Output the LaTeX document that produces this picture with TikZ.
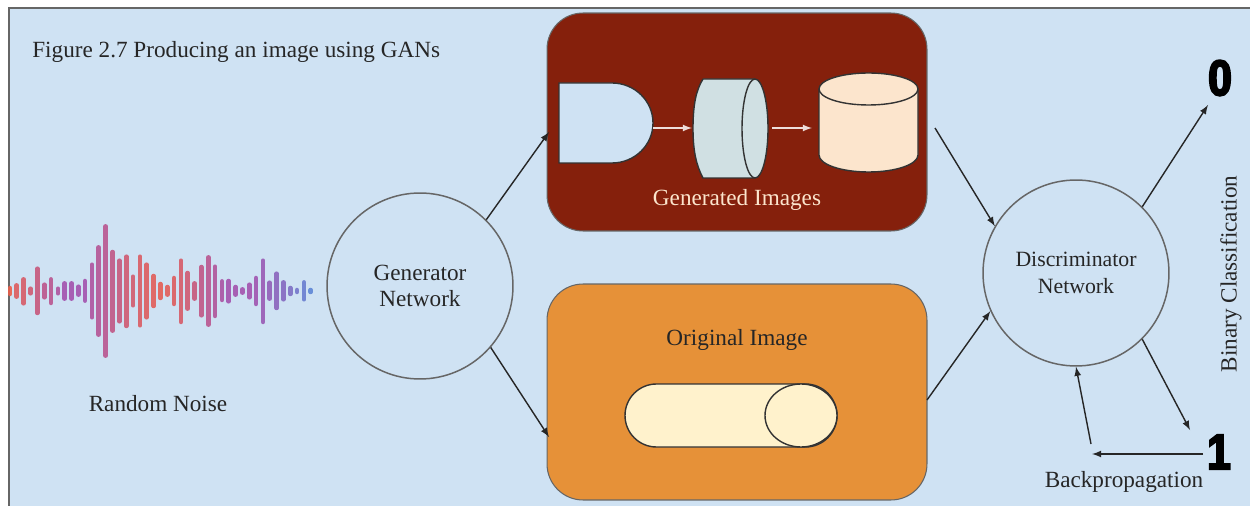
\documentclass[tikz,border=0pt]{standalone}
\usepackage{fontspec}
\usepackage{tikz}
\setmainfont{Liberation Serif}
\newfontfamily\digitfont[BoldFeatures={FakeBold=4,FakeStretch=0.85}]{Liberation Sans}
\definecolor{pagebg}{HTML}{CFE2F3}
\definecolor{framegray}{HTML}{666666}
\definecolor{darkbox}{HTML}{85200C}
\definecolor{orangebox}{HTML}{E69138}
\definecolor{lensfill}{HTML}{D0E0E3}
\definecolor{peachfill}{HTML}{FCE5CD}
\definecolor{creamfill}{HTML}{FFF2CC}
\definecolor{labelgray}{HTML}{262626}
\definecolor{noisered}{HTML}{EC5F4A}
\definecolor{noisepurple}{HTML}{A352AE}
\definecolor{noiseblue}{HTML}{5F86D6}
\tikzset{
  label text/.style={text=labelgray, font=\fontsize{13.2}{15}\selectfont, inner sep=0pt, align=center},
  net circle/.style={circle, draw=framegray, line width=0.85pt, minimum size=3.72cm, inner sep=0pt},
  big box/.style={draw=framegray, line width=0.6pt, rounded corners=0.72cm, minimum width=7.6cm, inner sep=0pt},
  flow arrow/.style={draw=labelgray, line width=0.8pt, -latex},
  small arrow/.style={draw=white!85!darkbox, line width=0.8pt, -latex},
  shape line/.style={draw=black!80, line width=0.8pt},
  digit text/.style={text=black, inner sep=0pt, font=\digitfont\bfseries\fontsize{28.5}{30}\selectfont}
}

\begin{document}
\begin{tikzpicture}[x=0.02cm, y=-0.02cm] % 1 unit = 1 pixel, y runs downwards
  \useasboundingbox (0,0) rectangle (1250,506);
  \fill[white] (0,0) rectangle (1250,506);
  \fill[pagebg] (9,8) rectangle (1250,506); % background
  \draw[framegray, line width=0.9pt] (9,506) -- (9,8) -- (1250,8);

  \node[label text, anchor=west] (title) at (32,52) {Figure 2.7 Producing an image using GANs};

  % noise bars: x, top, bottom (zoom pixels), colour
  \foreach \x/\t/\b/\c in {
    30/258/288/noisered, 50/250/296/noisered!80!noisepurple, 71/232/316/noisered!70!noisepurple,
    92/260/286/noisered!60!noisepurple, 112/200/345/noisered!50!noisepurple, 133/248/298/noisered!35!noisepurple,
    153/232/315/noisered!30!noisepurple, 174/260/286/noisered!15!noisepurple, 194/244/302/noisepurple,
    215/244/302/noisepurple, 235/254/290/noisepurple, 255/237/308/noisepurple,
    276/188/358/noisered!15!noisepurple, 296/136/410/noisered!25!noisepurple, 317/73/473/noisered!30!noisepurple,
    338/150/398/noisered!40!noisepurple, 358/176/370/noisered!50!noisepurple, 379/164/384/noisered!60!noisepurple,
    399/224/322/noisered!65!noisepurple, 420/164/382/noisered!75!noisepurple, 440/188/358/noisered!80!noisepurple,
    461/222/324/noisered!85!noisepurple, 481/246/300/noisered!90!noisepurple, 502/255/290/noisered!85!noisepurple,
    522/228/318/noisered!80!noisepurple, 543/176/372/noisered!70!noisepurple, 563/213/332/noisered!60!noisepurple,
    584/244/302/noisered!50!noisepurple, 604/195/352/noisered!40!noisepurple, 625/166/380/noisered!30!noisepurple,
    645/194/354/noisered!20!noisepurple, 666/238/306/noisered!10!noisepurple, 686/237/310/noisepurple,
    707/255/290/noisepurple, 727/262/284/noisepurple, 748/248/298/noisepurple,
    768/228/318/noiseblue!5!noisepurple, 789/176/372/noiseblue!15!noisepurple, 809/242/302/noiseblue!25!noisepurple,
    830/215/330/noiseblue!35!noisepurple, 850/241/304/noiseblue!45!noisepurple, 871/258/288/noiseblue!55!noisepurple,
    891/264/282/noiseblue!70!noisepurple, 912/241/304/noiseblue!85!noisepurple, 932/264/282/noiseblue}
  {
    \draw[\c, line width=0.09cm, opacity=0.9, line cap=round] ({\x/3},{200+(\t+6)/3}) -- ({\x/3},{200+(\b-6)/3});
  }
  \node[label text] (noise) at (158,404) {Random Noise};

  % circles
  \node[net circle] (generator) at (420,286) {};
  \node[label text] (generatortext) at (420,286) {Generator\\Network};
  \node[net circle] (discriminator) at (1076,273) {};
  \node[label text, font=\fontsize{12.4}{15}\selectfont] (discriminatortext) at (1076,273) {Discriminator\\Network};

  % boxes
  \node[big box, fill=darkbox, minimum height=4.36cm] (generated) at (737,122) {};
  \node[big box, fill=orangebox, minimum height=4.32cm] (original) at (737,392) {};
  \node[label text, text=peachfill] (generatedtext) at (737,200) {Generated Images};
  \node[label text] (originaltext) at (737,340) {Original Image};

  % shapes in the dark box
  \draw[shape line, fill=pagebg] (559,83) -- (612,83) arc[start angle=-90, end angle=90, x radius=41, y radius=40] -- (559,163) -- cycle;
  \draw[shape line, fill=lensfill] (703,79) -- (755,79) arc[start angle=-90, end angle=90, x radius=13, y radius=49.5] -- (703,178)
    .. controls (696,165) and (693,150) .. (693,128.5) .. controls (693,105) and (696,90) .. (703,79);
  \draw[shape line] (755,79) arc[start angle=-90, end angle=-270, x radius=13, y radius=49.5];
  \draw[shape line, fill=peachfill] (819,89) -- (819,155) arc[start angle=180, end angle=0, x radius=49.5, y radius=17] -- (918,89) -- cycle;
  \draw[shape line, fill=peachfill] (868.5,89) ellipse [x radius=49.5, y radius=16];
  \coordinate (gateout) at (653,128);
  \coordinate (lensin) at (692,128);
  \coordinate (lensout) at (772,128);
  \coordinate (drumin) at (812,128);
  \draw[small arrow] (gateout) -- (lensin);
  \draw[small arrow] (lensout) -- (drumin);

  % shape in the orange box
  \draw[shape line, fill=creamfill] (656.5,384) -- (805.5,384) arc[start angle=-90, end angle=90, radius=31.5] -- (656.5,447) arc[start angle=90, end angle=270, radius=31.5] -- cycle;
  \draw[shape line, fill=creamfill] (801,415.5) ellipse [x radius=36, y radius=31.5];

  % outputs
  \node[digit text] (zero) at (1220,78) {0};
  \node[digit text] (one) at (1219,452) {1};
  \node[label text] (backprop) at (1124,482) {Backpropagation};
  \node[label text, rotate=90] (binary) at (1231,274) {Binary Classification};

  % connectors
  \coordinate (generatedin) at (549,132);
  \coordinate (originalin) at (549,437);
  \coordinate (generatedout) at (935,128);
  \coordinate (originalout) at (927,400);
  \coordinate (zerotip) at (1208,105);
  \coordinate (onetip) at (1190,430);
  \coordinate (onestart) at (1203,454);
  \coordinate (bendend) at (1092,454);
  \coordinate (bendstart) at (1091,444);
  \draw[flow arrow] (generator.45) -- (generatedin);
  \draw[flow arrow] (generator.-41) -- (originalin);
  \draw[flow arrow] (generatedout) -- (discriminator.150);
  \draw[flow arrow] (originalout) -- (discriminator.204);
  \draw[flow arrow] (discriminator.45) -- (zerotip);
  \draw[flow arrow] (discriminator.-45) -- (onetip);
  \draw[flow arrow] (onestart) -- (bendend);
  \draw[flow arrow] (bendstart) -- (discriminator.270);
\end{tikzpicture}
\end{document}
